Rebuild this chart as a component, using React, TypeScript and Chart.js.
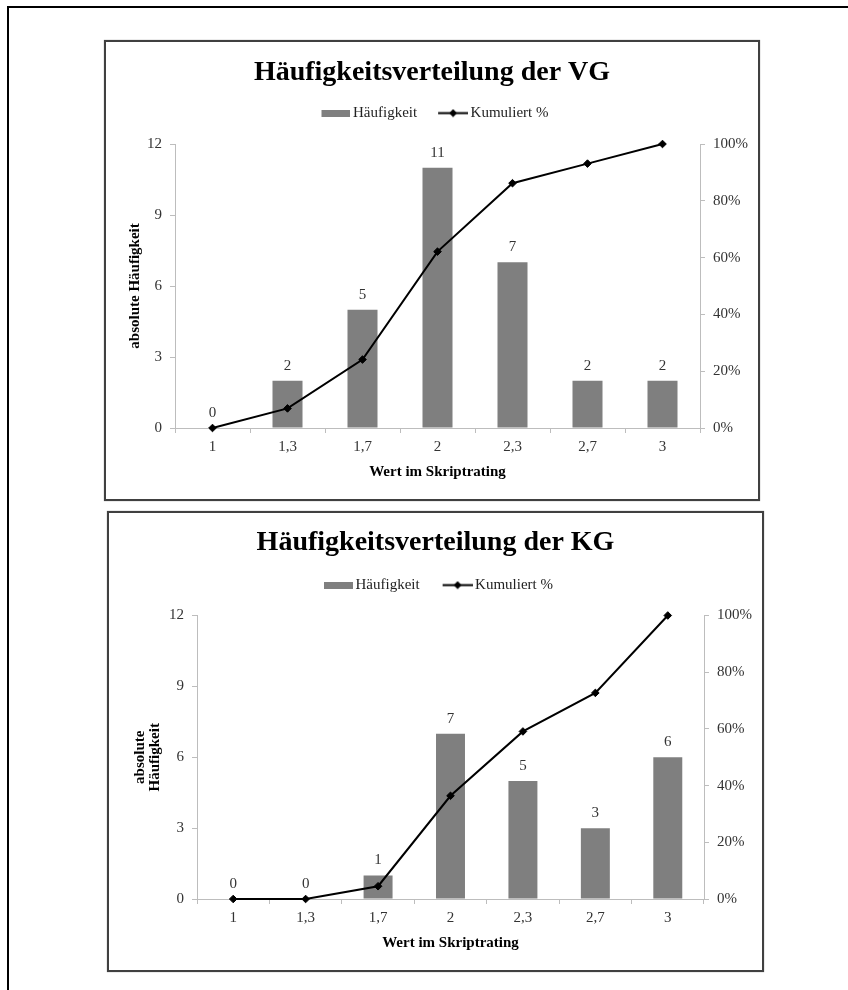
import React, { useEffect, useRef } from 'react';
import { Chart, registerables } from 'chart.js';

Chart.register(...registerables);

// ---------- data ----------
const categories = ['1', '1,3', '1,7', '2', '2,3', '2,7', '3'];

const vgTitle = 'Häufigkeitsverteilung der VG';
const vgCounts = [0, 2, 5, 11, 7, 2, 2];
const vgCumulative = [0, 6.9, 24.1, 62.1, 86.2, 93.1, 100];

const kgTitle = 'Häufigkeitsverteilung der KG';
const kgCounts = [0, 0, 1, 7, 5, 3, 6];
const kgCumulative = [0, 0, 4.5, 36.4, 59.1, 72.7, 100];

const seriesNames = ['Häufigkeit', 'Kumuliert %'];
const xAxisTitle = 'Wert im Skriptrating';
const yAxisTitleVG = 'absolute Häufigkeit';
const yAxisTitleKG = ['absolute', 'Häufigkeit'];

const countAxis = { min: 0, max: 12, step: 3 };
const percentAxis = { min: 0, max: 100, step: 20 };

// ---------- styles ----------
const FONT = "'Liberation Serif', 'Times New Roman', serif";
const BAR_COLOR = '#7f7f7f';
const AXIS_COLOR = '#bdbdbd';
const TEXT_COLOR = '#333333';

function barSwatch() {
  const c = document.createElement('canvas');
  c.width = 40;
  c.height = 7;
  const ctx = c.getContext('2d')!;
  ctx.fillStyle = BAR_COLOR;
  ctx.fillRect(11, 0, 29, 7);
  return c;
}

function lineSwatch() {
  const c = document.createElement('canvas');
  c.width = 40;
  c.height = 9;
  const ctx = c.getContext('2d')!;
  ctx.strokeStyle = '#000';
  ctx.lineWidth = 2;
  ctx.beginPath();
  ctx.moveTo(10, 4.5);
  ctx.lineTo(40, 4.5);
  ctx.stroke();
  ctx.fillStyle = '#000';
  ctx.beginPath();
  ctx.moveTo(25, 0.5);
  ctx.lineTo(29, 4.5);
  ctx.lineTo(25, 8.5);
  ctx.lineTo(21, 4.5);
  ctx.closePath();
  ctx.fill();
  return c;
}

const barValueLabels = {
  id: 'barValueLabels',
  afterDatasetsDraw(chart: any) {
    const ctx = chart.ctx;
    chart.data.datasets.forEach((ds: any, i: number) => {
      if (ds.type !== 'bar') return;
      const meta = chart.getDatasetMeta(i);
      ctx.save();
      ctx.font = `15px ${FONT}`;
      ctx.fillStyle = TEXT_COLOR;
      ctx.textAlign = 'center';
      ctx.textBaseline = 'middle';
      meta.data.forEach((el: any, j: number) => {
        ctx.fillText(String(ds.data[j]), el.x, el.y - 15);
      });
      ctx.restore();
    });
  },
};

function legendGap(extra: number) {
  return {
    id: 'legendGap',
    beforeInit(chart: any) {
      const legend = chart.legend;
      if (!legend) return;
      const fit = legend.fit;
      legend.fit = function () {
        fit.call(this);
        this.height += extra;
      };
    },
  };
}

type Props = {
  title: string;
  counts: number[];
  cumulative: number[];
  yTitle: string | string[];
  yTitleLineHeight: number;
  yTitlePad: number;
  leftWidth: number;
  titlePad: number;
  legendPad: number;
  legendExtra: number;
  width: number;
  height: number;
};

function ParetoChart(p: Props) {
  const ref = useRef<HTMLCanvasElement>(null);
  useEffect(() => {
    if (!ref.current) return;
    const swatches = [barSwatch(), lineSwatch()];
    const chart = new Chart(ref.current, {
      data: {
        labels: categories,
        datasets: [
          {
            type: 'bar',
            label: seriesNames[0],
            data: p.counts,
            backgroundColor: BAR_COLOR,
            borderWidth: 0,
            barPercentage: 0.4,
            categoryPercentage: 1.0,
            yAxisID: 'y',
            order: 1,
          } as any,
          {
            type: 'line',
            label: seriesNames[1],
            data: p.cumulative,
            borderColor: '#000',
            backgroundColor: '#000',
            borderWidth: 2,
            tension: 0,
            clip: false,
            pointStyle: 'rectRot',
            pointRadius: 3.8,
            pointBackgroundColor: '#000',
            pointBorderColor: '#000',
            pointBorderWidth: 1,
            yAxisID: 'y1',
            order: 0,
          } as any,
        ],
      },
      options: {
        responsive: false,
        animation: false,
        events: [],
        layout: { padding: { left: 0, right: 0, top: 0, bottom: 18 } },
        plugins: {
          tooltip: { enabled: false },
          title: {
            display: true,
            text: p.title,
            color: '#000',
            font: { family: FONT, size: 28, weight: 'bold', lineHeight: 1.2 },
            padding: { top: p.titlePad, bottom: 0 },
          },
          legend: {
            display: true,
            position: 'top',
            labels: {
              usePointStyle: true,
              pointStyleWidth: 30,
              padding: p.legendPad,
              color: '#222',
              font: { family: FONT, size: 15 },
              generateLabels: () =>
                seriesNames.map((name, i) => ({
                  text: name,
                  fillStyle: i === 0 ? BAR_COLOR : '#000',
                  strokeStyle: i === 0 ? BAR_COLOR : '#000',
                  lineWidth: 0,
                  pointStyle: swatches[i] as any,
                  hidden: false,
                  datasetIndex: i,
                  fontColor: '#222',
                })),
            },
          },
        },
        scales: {
          x: {
            type: 'category',
            offset: true,
            grid: {
              display: true,
              drawOnChartArea: false,
              drawTicks: true,
              tickLength: 5,
              color: AXIS_COLOR,
              offset: true,
            },
            border: { display: true, color: AXIS_COLOR, width: 1 },
            ticks: {
              padding: 5,
              color: TEXT_COLOR,
              font: { family: FONT, size: 15, lineHeight: 1.2 },
              maxRotation: 0,
              autoSkip: false,
            },
            title: {
              display: true,
              text: xAxisTitle,
              color: '#000',
              font: { family: FONT, size: 15, weight: 'bold', lineHeight: 1.2 },
              padding: { top: 2, bottom: 0 },
            },
            afterFit: (s: any) => {
              s.height = 53;
            },
          },
          y: {
            type: 'linear',
            position: 'left',
            min: countAxis.min,
            max: countAxis.max,
            grid: {
              display: true,
              drawOnChartArea: false,
              drawTicks: true,
              tickLength: 5,
              color: AXIS_COLOR,
            },
            border: { display: true, color: AXIS_COLOR, width: 1 },
            ticks: {
              stepSize: countAxis.step,
              padding: 8,
              color: TEXT_COLOR,
              font: { family: FONT, size: 15 },
            },
            title: {
              display: true,
              text: p.yTitle as any,
              color: '#000',
              font: { family: FONT, size: 15, weight: 'bold', lineHeight: p.yTitleLineHeight },
              padding: { top: p.yTitlePad, bottom: 0 },
            },
            afterFit: (s: any) => {
              s.width = p.leftWidth;
            },
          },
          y1: {
            type: 'linear',
            position: 'right',
            min: percentAxis.min,
            max: percentAxis.max,
            grid: {
              display: true,
              drawOnChartArea: false,
              drawTicks: true,
              tickLength: 5,
              color: AXIS_COLOR,
            },
            border: { display: true, color: AXIS_COLOR, width: 1 },
            ticks: {
              stepSize: percentAxis.step,
              padding: 8,
              color: TEXT_COLOR,
              font: { family: FONT, size: 15 },
              callback: (v: any) => `${v}%`,
            },
            afterFit: (s: any) => {
              s.width = 58;
            },
          },
        },
      } as any,
      plugins: [barValueLabels, legendGap(p.legendExtra)],
    });
    return () => chart.destroy();
  }, []);
  return (
    <canvas
      ref={ref}
      width={p.width}
      height={p.height}
      style={{ display: 'block', width: p.width, height: p.height }}
    />
  );
}

export default function App() {
  return (
    <div
      style={{
        position: 'absolute',
        left: 0,
        top: 0,
        width: 848,
        height: 990,
        overflow: 'hidden',
        background: '#fff',
      }}
    >
      <div
        style={{
          position: 'absolute',
          left: 7,
          top: 6,
          width: 900,
          height: 1000,
          borderLeft: '2px solid #000',
          borderTop: '2px solid #000',
        }}
      />
      <div
        style={{
          position: 'absolute',
          left: 104,
          top: 40,
          width: 652,
          height: 457,
          border: '2px solid #404040',
          boxShadow: '0 0 1px #888',
          background: '#fff',
        }}
      >
        <ParetoChart
          title={vgTitle}
          counts={vgCounts}
          cumulative={vgCumulative}
          yTitle={yAxisTitleVG}
          yTitleLineHeight={1.2}
          yTitlePad={20.5}
          leftWidth={69}
          titlePad={14}
          legendPad={16}
          legendExtra={13.4}
          width={652}
          height={457}
        />
      </div>
      <div
        style={{
          position: 'absolute',
          left: 107,
          top: 511,
          width: 653,
          height: 457,
          border: '2px solid #404040',
          boxShadow: '0 0 1px #888',
          background: '#fff',
        }}
      >
        <ParetoChart
          title={kgTitle}
          counts={kgCounts}
          cumulative={kgCumulative}
          yTitle={yAxisTitleKG}
          yTitleLineHeight={1.0}
          yTitlePad={24}
          leftWidth={88}
          titlePad={13}
          legendPad={18}
          legendExtra={12.9}
          width={653}
          height={457}
        />
      </div>
    </div>
  );
}
